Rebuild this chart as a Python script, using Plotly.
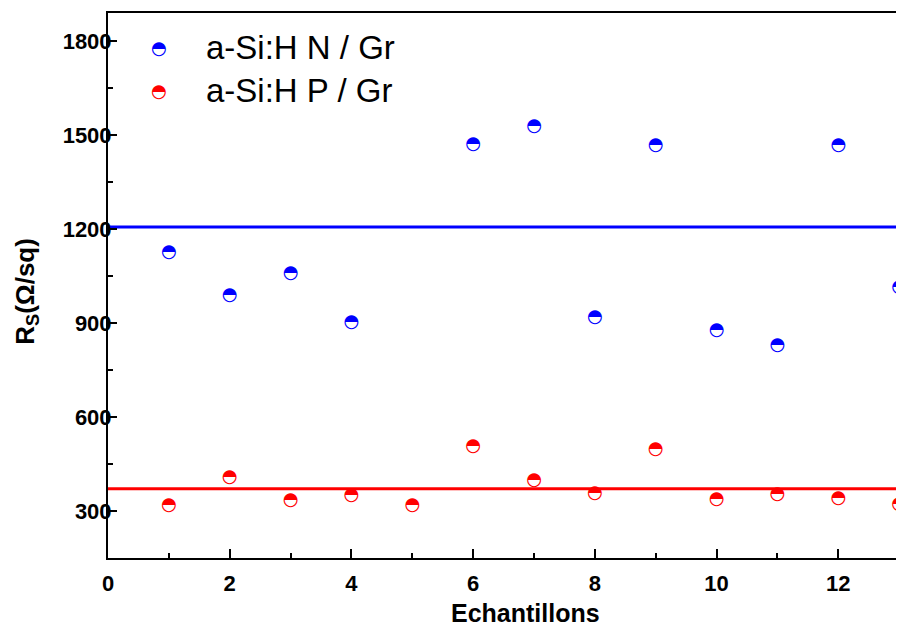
import plotly.graph_objects as go

# Data
samples_n = [1, 2, 3, 4, 6, 7, 8, 9, 10, 11, 12, 13]
rs_n = [1126, 989, 1058, 902, 1470, 1528, 918, 1466, 875, 830, 1466, 1014]
samples_p = [1, 2, 3, 4, 5, 6, 7, 8, 9, 10, 11, 12, 13]
rs_p = [318, 406, 335, 350, 318, 506, 396, 357, 495, 337, 353, 341, 321]
mean_n = 1207
mean_p = 371
line_x = [0, 13]
name_n = "a-Si:H N / Gr"
name_p = "a-Si:H P / Gr"
blue = "#0000FF"
red = "#FF0000"
glyph = "\u25D3"

fig = go.Figure()
fig.add_trace(go.Scatter(x=line_x, y=[mean_n, mean_n], mode="lines",
                         line=dict(color=blue, width=3), showlegend=False))
fig.add_trace(go.Scatter(x=line_x, y=[mean_p, mean_p], mode="lines",
                         line=dict(color=red, width=3), showlegend=False))
fig.add_trace(go.Scatter(x=samples_n, y=rs_n, mode="text", text=[glyph] * len(rs_n),
                         textposition="middle center",
                         textfont=dict(family="DejaVu Sans", size=18, color=blue),
                         name=name_n, showlegend=False, cliponaxis=False))
fig.add_trace(go.Scatter(x=samples_p, y=rs_p, mode="text", text=[glyph] * len(rs_p),
                         textposition="middle center",
                         textfont=dict(family="DejaVu Sans", size=18, color=red),
                         name=name_p, showlegend=False, cliponaxis=False))

# Legend drawn as annotations
for yy, col, name in [(0.937, blue, name_n), (0.857, red, name_p)]:
    fig.add_annotation(x=0.064, y=yy, xref="paper", yref="paper", text=glyph,
                       showarrow=False, xanchor="center", yanchor="middle",
                       font=dict(family="DejaVu Sans", size=18, color=col))
    fig.add_annotation(x=0.121, y=yy, xref="paper", yref="paper", text=name,
                       showarrow=False, xanchor="left", yanchor="middle",
                       font=dict(family="Liberation Sans", size=33, color="black"))

# Axis titles as annotations (centered as in original)
fig.add_annotation(x=0.525, y=-0.072, xref="paper", yref="paper",
                   text="<b>Echantillons</b>", showarrow=False,
                   xanchor="center", yanchor="top",
                   font=dict(family="Liberation Sans", size=25, color="black"))
fig.add_annotation(x=-0.102, y=0.49, xref="paper", yref="paper",
                   text="<b>R<sub>S</sub>(\u03A9/sq)</b>", showarrow=False,
                   textangle=-90, xanchor="center", yanchor="middle",
                   font=dict(family="Liberation Sans", size=26, color="black"))

# page body has an 8px margin, so the figure is sized to fit the window
fig.update_layout(
    width=896, height=614,
    margin=dict(l=100, r=0, t=5, b=64, autoexpand=False),
    plot_bgcolor="white", paper_bgcolor="white",
    font=dict(family="Liberation Sans", color="black"),
    showlegend=False,
)
fig.update_xaxes(
    range=[0, 13.08], tick0=0, dtick=2, ticks="inside", ticklen=9, tickwidth=2,
    tickcolor="black", showline=True, linecolor="black", linewidth=2, mirror=True,
    showgrid=False, zeroline=False, automargin=False, ticklabelstandoff=5,
    tickfont=dict(family="Liberation Sans", size=22, color="black"),
    tickprefix="<b>", ticksuffix="</b>",
    minor=dict(ticks="inside", ticklen=5, tickwidth=2, tickcolor="black", dtick=1, tick0=0),
)
fig.update_yaxes(
    range=[150, 1890], tick0=0, dtick=300, ticks="inside", ticklen=9, tickwidth=2,
    tickcolor="black", showline=True, linecolor="black", linewidth=2, mirror=False,
    showgrid=False, zeroline=False, automargin=False, ticklabelstandoff=-10,
    tickfont=dict(family="Liberation Sans", size=22, color="black"),
    tickprefix="<b>", ticksuffix="</b>",
    minor=dict(ticks="inside", ticklen=5, tickwidth=2, tickcolor="black", dtick=150, tick0=0),
)

fig.write_html("out.html")
